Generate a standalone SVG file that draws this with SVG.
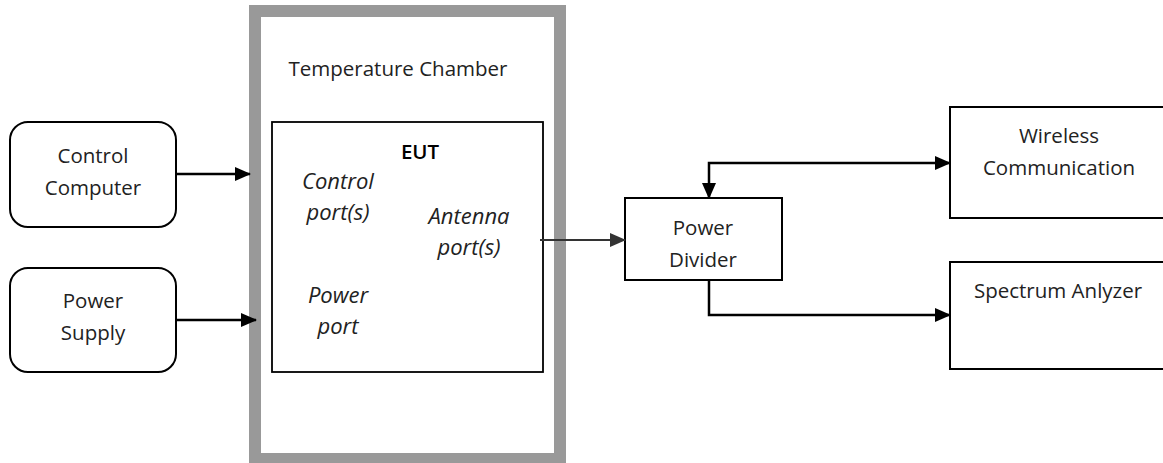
<svg xmlns="http://www.w3.org/2000/svg" width="1163" height="463" viewBox="0 0 1163 463">
<style>
text{font-family:"Open Sans","Liberation Sans",sans-serif;font-size:20.5px;fill:#222;text-anchor:middle}
.it{font-style:italic;font-size:22px}
.box{fill:#fff;stroke:#000;stroke-width:2}
.con{fill:none;stroke:#000;stroke-width:2.5}
</style>
<defs>
<marker id="ah" markerWidth="16" markerHeight="14" refX="15" refY="7" orient="auto" markerUnits="userSpaceOnUse"><path d="M0,0 L16,7 L0,14 Z" fill="#000"/></marker>
<marker id="ahs" markerWidth="16" markerHeight="14" refX="1" refY="7" orient="auto" markerUnits="userSpaceOnUse"><path d="M16,0 L0,7 L16,14 Z" fill="#000"/></marker>
<marker id="ahg" markerWidth="16" markerHeight="14" refX="15" refY="7" orient="auto" markerUnits="userSpaceOnUse"><path d="M0,0 L16,7 L0,14 Z" fill="#333"/></marker>
</defs>
<g id="chamber">
<rect x="255" y="11" width="305" height="448" fill="#fff" stroke="#999" stroke-width="12"/>
<text x="398" y="76">Temperature Chamber</text>
</g>
<g id="eut">
<rect x="272" y="122" width="271" height="250" fill="#fff" stroke="#000" stroke-width="1.8"/>
<text x="420" y="159" style="font-weight:600;fill:#000">EUT</text>
<text class="it" x="338" y="189">Control</text>
<text class="it" x="338" y="220">port(s)</text>
<text class="it" x="469" y="224">Antenna</text>
<text class="it" x="469" y="255">port(s)</text>
<text class="it" x="338" y="303">Power</text>
<text class="it" x="338" y="334">port</text>
</g>
<g id="control-computer">
<rect class="box" x="10" y="122" width="166" height="105" rx="18"/>
<text x="93" y="163">Control</text>
<text x="93" y="195">Computer</text>
</g>
<g id="power-supply">
<rect class="box" x="10" y="268" width="166" height="104" rx="18"/>
<text x="93" y="308">Power</text>
<text x="93" y="340">Supply</text>
</g>
<g id="power-divider">
<rect class="box" x="625" y="198" width="157" height="82"/>
<text x="703" y="235">Power</text>
<text x="703" y="267">Divider</text>
</g>
<g id="wireless-communication">
<rect class="box" x="950" y="107" width="220" height="111"/>
<text x="1059" y="143">Wireless</text>
<text x="1059" y="175">Communication</text>
</g>
<g id="spectrum-analyzer">
<rect class="box" x="950" y="262" width="220" height="107"/>
<text x="1058" y="298">Spectrum Anlyzer</text>
</g>
<g id="connectors">
<path class="con" d="M176,174 H250" marker-end="url(#ah)"/>
<path class="con" d="M176,320 H256" marker-end="url(#ah)"/>
<path d="M540,240 H625" fill="none" stroke="#333" stroke-width="2" marker-end="url(#ahg)"/>
<path class="con" d="M950,163 H709 V198" marker-start="url(#ahs)" marker-end="url(#ah)"/>
<path class="con" d="M709,280 V315 H950" marker-end="url(#ah)"/>
</g>
</svg>
